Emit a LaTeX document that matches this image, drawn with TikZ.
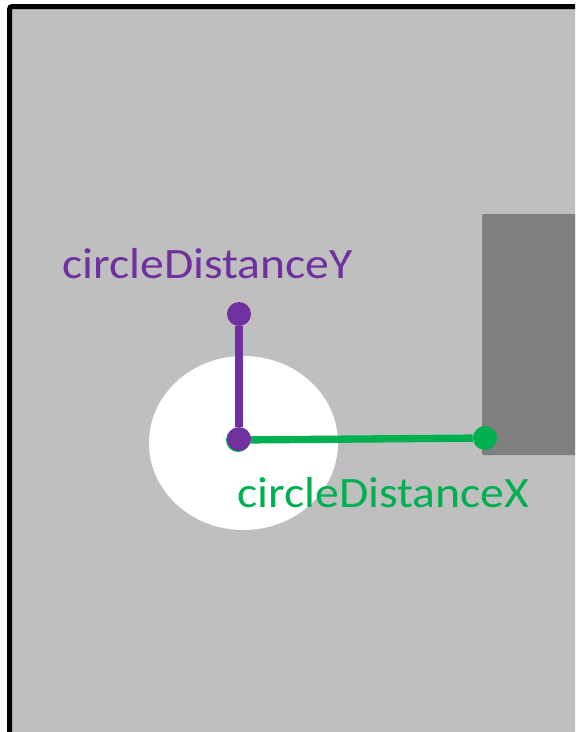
\documentclass[tikz,border=0pt]{standalone}
\usepackage{fontspec}
\setmainfont{Carlito}
\usepackage{tikz}
\definecolor{bggray}{HTML}{BFBFBF}
\definecolor{wallgray}{HTML}{7F7F7F}
\definecolor{distpurple}{HTML}{7030A0}
\definecolor{distgreen}{HTML}{00B050}
\tikzset{
  dot/.style={circle,fill=#1,inner sep=0pt,minimum size=18pt},
  distlabel/.style={anchor=base west,inner sep=0pt,text=#1,font=\fontsize{32.5}{36}\selectfont},
}
\newcommand{\widetext}[1]{\scalebox{1.1}[1]{#1}}

\begin{document}
\begin{tikzpicture}[x=0.75pt,y=-0.75pt]
\useasboundingbox (0,0) rectangle (575,732);
\begin{scope}
\clip (0,0) rectangle (575,732);
\draw[line width=3.75pt,fill=bggray,rounded corners=2pt]
(9.5,6.5) rectangle (640,800);
\fill[wallgray,rounded corners=1.5pt] (482,214) rectangle (620,455);
\end{scope}
\fill[white] (243.5,443) ellipse [x radius=94.5,y radius=87];
\node [dot=distgreen] (c0) at(238,440){};
\node [dot=distgreen] (gx) at(485,438){};
\draw[distgreen,line width=5.5pt](c0)--(gx);
\node [dot=distpurple] (c) at(239,439){};
\node [dot=distpurple] (gy) at(239,314){};
\draw[distpurple,line width=6pt](c)--(gy);
\node [distlabel=distpurple] (ly) at(62,278){\widetext{circleDistanceY}};
\node [distlabel=distgreen] (lx) at(237,507){\widetext{circleDistanceX}};
\end{tikzpicture}
\end{document}
